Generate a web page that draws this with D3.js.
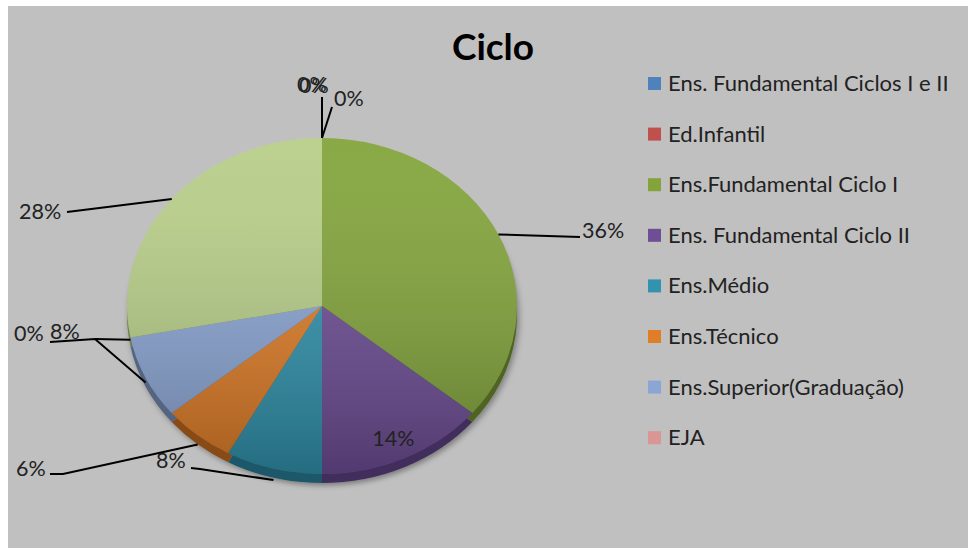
<!doctype html>
<html>
<head>
<meta charset="utf-8">
<title>Ciclo</title>
<style>
  body { margin: 0; background: #fff; }
  text { font-family: Lato, "Open Sans", sans-serif; }
</style>
</head>
<body>
<svg width="968" height="558"></svg>
<script src="https://d3js.org/d3.v7.min.js"></script>
<script>
// categories in the order Excel draws them (clockwise from 12 o'clock)
var categories = [
  "Ens. Fundamental Ciclos I e II",
  "Ed.Infantil",
  "Ens.Fundamental Ciclo I",
  "Ens. Fundamental Ciclo II",
  "Ens.Médio",
  "Ens.Técnico",
  "Ens.Superior(Graduação)",
  "EJA",
  "Ens.Superior(Pós-Graduação)",
  "Outros"
];
var values = [0, 0, 36, 14, 8, 6, 8, 0, 28, 0];
var colors = ["#4F81BD", "#C0504D", "#82A43A", "#6E4E96", "#3193AE", "#E07E28", "#8BA6D4", "#D99694", "#B7CE88", "#B3A2C7"];
var legendCount = 8; // the rest did not fit in the original legend

var svg = d3.select("svg");

svg.append("rect")
    .attr("x", 8).attr("y", 6)
    .attr("width", 960).attr("height", 542)
    .attr("fill", "#c0c0c0");

var defs = svg.append("defs");
var shade = defs.append("linearGradient")
    .attr("id", "shade")
    .attr("x1", 0).attr("y1", 0).attr("x2", 0).attr("y2", 1);
shade.append("stop").attr("offset", "0%").attr("stop-color", "#fff").attr("stop-opacity", 0.06);
shade.append("stop").attr("offset", "100%").attr("stop-color", "#000").attr("stop-opacity", 0.26);

var shadow = defs.append("filter").attr("id", "shadow")
    .attr("x", "-10%").attr("y", "-10%").attr("width", "120%").attr("height", "125%");
shadow.append("feDropShadow")
    .attr("dx", 2).attr("dy", 3).attr("stdDeviation", 3)
    .attr("flood-color", "#000").attr("flood-opacity", 0.35);

svg.append("text")
    .attr("x", 493).attr("y", 60)
    .attr("text-anchor", "middle")
    .attr("font-size", 37).attr("font-weight", "bold")
    .attr("fill", "#000")
    .text("Ciclo");

// pie geometry: tilted, so it is an ellipse
var cx = 322, cy = 306, rx = 195, ry = 168, depth = 9;

var pie = d3.pie().sort(null).value(function(d){ return d; });
var arcs = pie(values);
var arc = d3.arc().innerRadius(0).outerRadius(rx);

var sideG = svg.append("g")
    .attr("filter", "url(#shadow)")
    .attr("transform", "translate(" + cx + "," + (cy + depth) + ") scale(1," + (ry / rx) + ")");
sideG.selectAll("path")
    .data(arcs)
    .enter().append("path")
    .attr("d", arc)
    .attr("fill", function(d, i){ return d3.color(colors[i]).darker(1.4); });

var topG = svg.append("g")
    .attr("transform", "translate(" + cx + "," + cy + ") scale(1," + (ry / rx) + ")");
topG.selectAll("path")
    .data(arcs)
    .enter().append("path")
    .attr("d", arc)
    .attr("fill", function(d, i){ return colors[i]; });
topG.append("ellipse")
    .attr("rx", rx).attr("ry", rx)
    .attr("fill", "url(#shade)");

function edge(a) {
  var c = Math.cos(a);
  return [cx + rx * Math.sin(a), cy - ry * c + (c < 0 ? -c * depth * 1.3 : 0)];
}

// where each data label sits: [x, baseline, leader start, elbow]
var labelLayout = [
  [297, 92, [322, 97]],
  [299, 93, null],
  [582, 238, [580, 237]],
  null,
  [156, 468, [191, 468], [200, 469]],
  [16, 476, [50, 474], [63, 474]],
  [50, 339, [50, 342], [95, 339]],
  [14, 341, [95, 339]],
  [19, 219, [67, 212]],
  [334, 106, [332, 107]]
];

var lineGen = d3.line();
var labels = svg.append("g").attr("font-size", 21.5).attr("fill", "#222");

arcs.forEach(function(d, i) {
  var mid = (d.startAngle + d.endAngle) / 2;
  var pct = Math.round(d.value) + "%";
  var L = labelLayout[i];
  if (!L) {
    var f = 0.86;
    labels.append("text")
        .attr("x", cx + rx * f * Math.sin(mid))
        .attr("y", cy - ry * f * Math.cos(mid) + 9)
        .attr("text-anchor", "middle")
        .text(pct);
    return;
  }
  if (L[2]) {
    var pts = [L[2]];
    if (L[3]) pts.push(L[3]);
    pts.push(edge(mid));
    svg.append("path")
        .attr("d", lineGen(pts))
        .attr("fill", "none")
        .attr("stroke", "#000")
        .attr("stroke-width", 2);
  }
  labels.append("text")
      .attr("x", L[0]).attr("y", L[1])
      .text(pct);
});

var legend = svg.append("g");
var items = legend.selectAll("g")
    .data(categories.slice(0, legendCount))
    .enter().append("g")
    .attr("transform", function(d, i){ return "translate(648," + (83 + i * 50.6) + ")"; });
items.append("rect")
    .attr("x", 0).attr("y", -6)
    .attr("width", 13).attr("height", 13)
    .attr("fill", function(d, i){ return colors[i]; });
items.append("text")
    .attr("x", 20).attr("y", 8)
    .attr("font-size", 22)
    .attr("fill", "#222")
    .text(function(d){ return d; });
</script>
</body>
</html>
